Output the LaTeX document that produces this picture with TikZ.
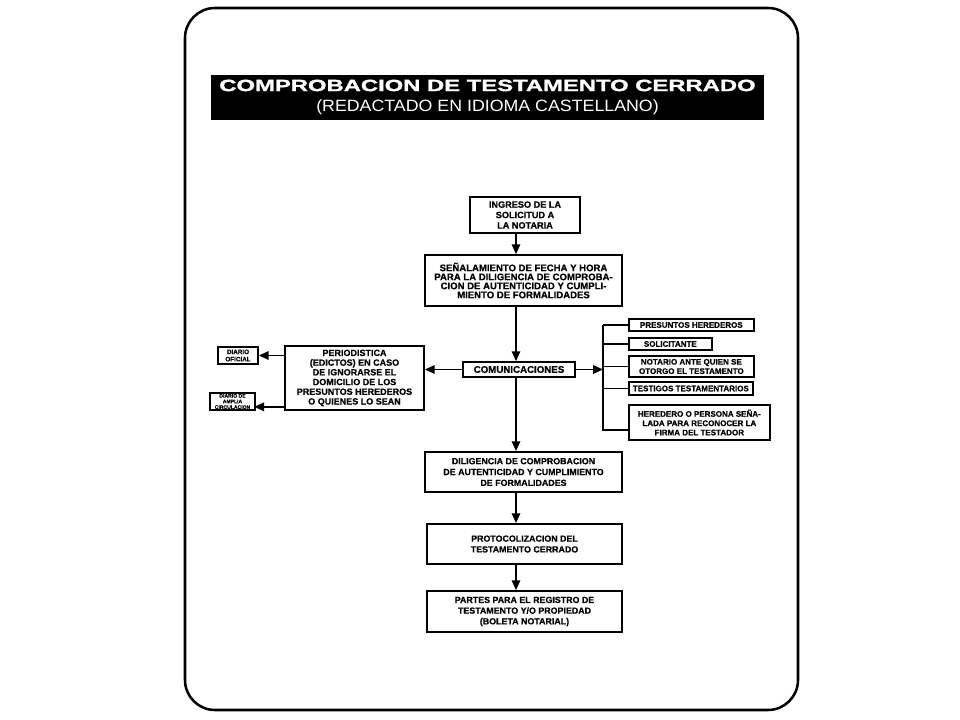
\documentclass[tikz,border=0pt]{standalone}
\usepackage{fontspec}
\setmainfont[BoldFeatures={FakeBold=0.6}]{Liberation Sans}
\newfontfamily\titlefont[FakeStretch=1.46,BoldFeatures={FakeBold=1.6}]{Liberation Sans}
\newfontfamily\subtitlefont[FakeStretch=1.09]{Liberation Sans}
\usepackage{tikz}
\usetikzlibrary{arrows.meta}
\newcommand{\unitpx}{0.025cm}
\newcommand{\boxfont}[2]{\bfseries\fontsize{#1}{#2}\selectfont}

\begin{document}
\begin{tikzpicture}[x=0.025cm,y=-0.025cm,line width=1.2pt,
  box/.style={draw,fill=white,align=center,inner sep=1pt},
  arr/.style={-{Triangle[length=7pt,width=6pt]}}]
\useasboundingbox (0,0) rectangle (960,720);
% frame and title
\draw[line width=1.8pt,rounded corners=0.75cm] (185,8) rectangle (798,710);
\node[fill=black,text=white,align=center,inner sep=0pt,minimum width=553*\unitpx,minimum height=45*\unitpx,
  font=\fontsize{11.6}{14.8}\selectfont] (title) at (487.5,97.5)
  {{\titlefont\bfseries COMPROBACION DE TESTAMENTO CERRADO}\\
   {\subtitlefont (REDACTADO EN IDIOMA CASTELLANO)}};
% main column
\coordinate (axis) at (516,0);
\node[box,font=\boxfont{6.5}{7.4},minimum width=110*\unitpx,minimum height=36*\unitpx] (ingreso) at (525,215)
  {INGRESO DE LA\\SOLICITUD A\\LA NOTARIA};
\node[box,font=\boxfont{6.8}{6.4},minimum width=197*\unitpx,minimum height=51*\unitpx] (senal) at (523.5,280.5)
  {SEÑALAMIENTO DE FECHA Y HORA\\PARA LA DILIGENCIA DE COMPROBA-\\CION DE AUTENTICIDAD Y CUMPLI-\\MIENTO DE FORMALIDADES};
\node[box,font=\boxfont{6.9}{7.5},minimum width=112*\unitpx,minimum height=15*\unitpx] (comun) at (519,369.5)
  {COMUNICACIONES};
\node[box,font=\boxfont{6.3}{7.7},minimum width=197*\unitpx,minimum height=40*\unitpx] (dilig) at (523.5,472)
  {DILIGENCIA DE COMPROBACION\\DE AUTENTICIDAD Y CUMPLIMIENTO\\DE FORMALIDADES};
\node[box,font=\boxfont{6.3}{7.7},minimum width=195*\unitpx,minimum height=40*\unitpx] (protoc) at (524.5,544)
  {PROTOCOLIZACION DEL\\TESTAMENTO CERRADO};
\node[box,font=\boxfont{6.3}{7.6},minimum width=195*\unitpx,minimum height=41*\unitpx] (partes) at (524.5,611.5)
  {PARTES PARA EL REGISTRO DE\\TESTAMENTO Y/O PROPIEDAD\\(BOLETA NOTARIAL)};
\draw[arr] (ingreso.south -| axis) -- (senal.north -| axis);
\draw[arr] (senal.south -| axis) -- (comun.north -| axis);
\draw[arr] (comun.south -| axis) -- (dilig.north -| axis);
\draw[arr] (dilig.south -| axis) -- (protoc.north -| axis);
\draw[arr] (protoc.south -| axis) -- (partes.north -| axis);
% left side
\node[box,font=\boxfont{6.4}{6.9},minimum width=139*\unitpx,minimum height=64*\unitpx] (perio) at (354.5,378)
  {PERIODISTICA\\(EDICTOS) EN CASO\\DE IGNORARSE EL\\DOMICILIO DE LOS\\PRESUNTOS HEREDEROS\\O QUIENES LO SEAN};
\node[box,font=\boxfont{4.5}{5.2},minimum width=40*\unitpx,minimum height=17*\unitpx] (oficial) at (238,355.5)
  {DIARIO\\OFICIAL};
\node[box,font=\boxfont{3.6}{4},inner sep=0.5pt,minimum width=45*\unitpx,minimum height=17*\unitpx] (amplia) at (232.5,401.5)
  {DIARIO DE\\AMPLIA\\CIRCULACION};
\draw[arr] (comun.west) -- (comun.west -| perio.east);
\draw[arr] (perio.west |- oficial) -- (oficial.east);
\draw[arr] (perio.west |- amplia.south) ++(0,-4) -- +(-30,0);
% right side
\begin{scope}[box/.append style={anchor=west,font=\boxfont{5.7}{6.6}}]
\node[box,minimum width=125*\unitpx,minimum height=12*\unitpx] (presuntos) at (628,325) {PRESUNTOS HEREDEROS};
\node[box,minimum width=83*\unitpx,minimum height=12*\unitpx] (solic) at (628,344) {SOLICITANTE};
\node[box,minimum width=125*\unitpx,minimum height=21*\unitpx] (notario) at (628,366.5) {NOTARIO ANTE QUIEN SE\\OTORGO EL TESTAMENTO};
\node[box,minimum width=124*\unitpx,minimum height=13*\unitpx] (testigos) at (628,388.5) {TESTIGOS TESTAMENTARIOS};
\node[box,minimum width=141*\unitpx,minimum height=35*\unitpx] (heredero) at (628,422.5) {HEREDERO O PERSONA SEÑA-\\LADA PARA RECONOCER LA\\FIRMA DEL TESTADOR};
\end{scope}
\coordinate (brk) at (603,369);
\coordinate (brkbot) at (603,430);
\draw (presuntos.west -| brk) -- (brkbot) -- (brkbot -| heredero.west);
\draw (presuntos.west -| brk) -- (presuntos.west);
\draw (solic.west -| brk) -- (solic.west);
\draw (notario.west -| brk) -- (notario.west);
\draw (testigos.west -| brk) -- (testigos.west);
\draw[arr] (comun.east) -- (comun.east -| brk);
\end{tikzpicture}
\end{document}
